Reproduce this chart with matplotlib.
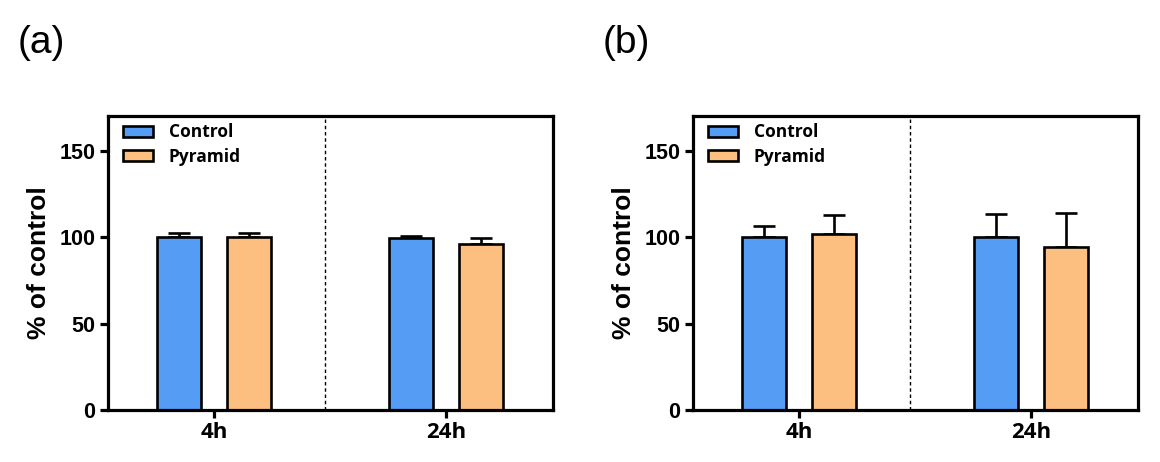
import numpy as np
import matplotlib.pyplot as plt

plt.rcParams['font.family'] = ['Open Sans', 'DejaVu Sans']

groups = ['4h', '24h']
series = ['Control', 'Pyramid']
colors = ['#559cf5', '#fdbf80']

# panel (a)
a_control = [100, 99.5]
a_control_err = [2.5, 1.2]
a_pyramid = [100, 96]
a_pyramid_err = [2.5, 3.5]

# panel (b)
b_control = [100, 100]
b_control_err = [6.5, 13.5]
b_pyramid = [102, 94.5]
b_pyramid_err = [10.5, 19.5]

panels = [
    ('(a)', [a_control, a_pyramid], [a_control_err, a_pyramid_err]),
    ('(b)', [b_control, b_pyramid], [b_control_err, b_pyramid_err]),
]

fig = plt.figure(figsize=(11.6, 4.62), dpi=100)
lefts = [108 / 1160, 693 / 1160]
x = np.arange(len(groups))
width = 0.19
offsets = [-0.151, 0.151]
lw = 1.9

for left, (tag, vals, errs) in zip(lefts, panels):
    ax = fig.add_axes([left, 52 / 462, 445 / 1160, 294 / 462])
    for i in range(len(series)):
        ax.bar(x + offsets[i], vals[i], width, color=colors[i], edgecolor='black',
               linewidth=lw, label=series[i], zorder=2)
        ax.errorbar(x + offsets[i], vals[i], yerr=[np.zeros(len(groups)), errs[i]],
                    fmt='none', ecolor='black', elinewidth=lw, capsize=8, capthick=lw, zorder=1)
    ax.axvline(0.48, color='black', linestyle=(0, (2.5, 2)), linewidth=1.0, zorder=0)
    ax.set_xlim(-0.457, 1.461)
    ax.set_ylim(0, 170)
    ax.set_yticks([0, 50, 100, 150])
    ax.set_xticks(x)
    ax.set_xticklabels(groups, fontsize=16, fontweight='bold')
    for lab in ax.get_yticklabels():
        lab.set_fontsize(15.5)
        lab.set_fontweight('bold')
        lab.set_family('Liberation Sans')
    ax.set_ylabel('% of control', fontsize=19, fontweight='bold', family='Liberation Sans', labelpad=6)
    for sp in ax.spines.values():
        sp.set_linewidth(2.3)
    ax.tick_params(axis='both', width=2.3, length=6, direction='out', pad=3)
    ax.legend(loc='upper left', frameon=False, handlelength=1.75, handleheight=0.55,
              handletextpad=0.9, labelspacing=0.35, borderaxespad=0.2,
              bbox_to_anchor=(0.01, 1.01), prop={'size': 12.5, 'weight': 'bold'})
    fig.text(left - 90 / 1160, 1 - 43 / 462, tag, fontsize=28, family='Liberation Sans',
             va='center', ha='left')

fig.savefig('out.png', dpi=100)
